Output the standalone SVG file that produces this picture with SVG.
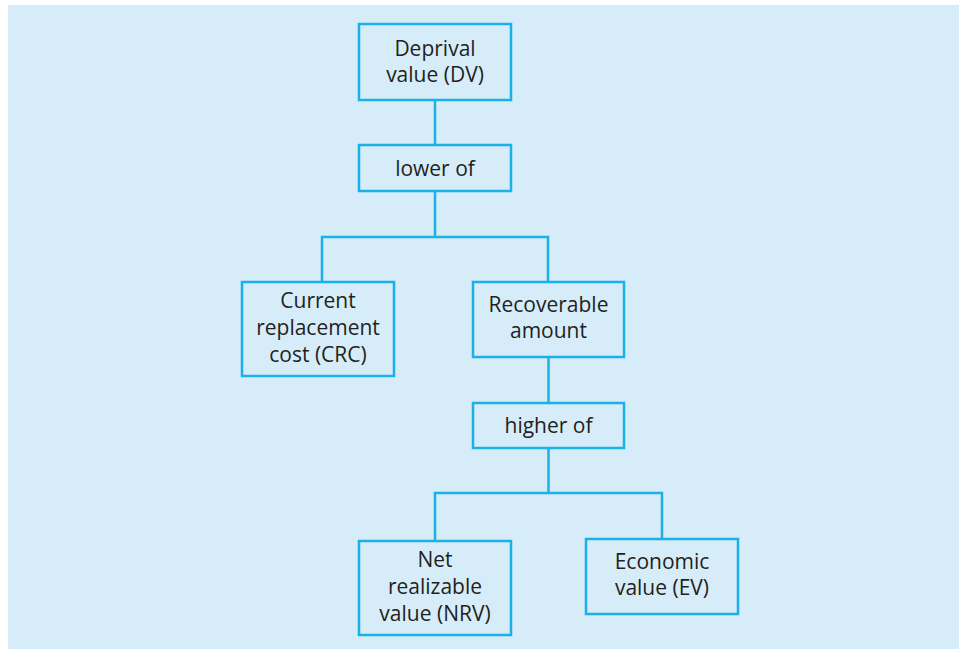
<svg xmlns="http://www.w3.org/2000/svg" width="959" height="649" viewBox="0 0 959 649">
<style>
.box{fill:#d6edf9;stroke:#1ab0e8;stroke-width:2.5}
.con{fill:none;stroke:#1ab0e8;stroke-width:2.5}
text{font-family:"Open Sans","Noto Sans",sans-serif;font-size:21px;fill:#231f20;text-anchor:middle}
</style>
<rect x="0" y="0" width="959" height="649" fill="#ffffff"/>
<rect x="8" y="5" width="951" height="644" fill="#d6edf9"/>
<g id="connectors">
<path class="con" d="M435 100V145M435 191V237M322 282V237H548V282M548.5 357V403M548.5 448V493M435 541V493H662V539"/>
</g>
<g id="dv"><rect class="box" x="359" y="24" width="152" height="76"/><text x="435" y="55.5">Deprival</text><text x="435" y="81.5">value (DV)</text></g>
<g id="lower"><rect class="box" x="359" y="145" width="152" height="46"/><text x="435" y="176">lower of</text></g>
<g id="crc"><rect class="box" x="242" y="282" width="152" height="94"/><text x="318" y="308">Current</text><text x="318" y="334.5">replacement</text><text x="318" y="361.5">cost (CRC)</text></g>
<g id="recoverable"><rect class="box" x="473" y="282" width="151" height="75"/><text x="548.5" y="312">Recoverable</text><text x="548.5" y="338">amount</text></g>
<g id="higher"><rect class="box" x="473" y="403" width="151" height="45"/><text x="548.5" y="433">higher of</text></g>
<g id="nrv"><rect class="box" x="359" y="541" width="152" height="94"/><text x="435" y="567">Net</text><text x="435" y="593.5">realizable</text><text x="435" y="620.5">value (NRV)</text></g>
<g id="ev"><rect class="box" x="586" y="539" width="152" height="75"/><text x="662" y="569">Economic</text><text x="662" y="595">value (EV)</text></g>
</svg>
